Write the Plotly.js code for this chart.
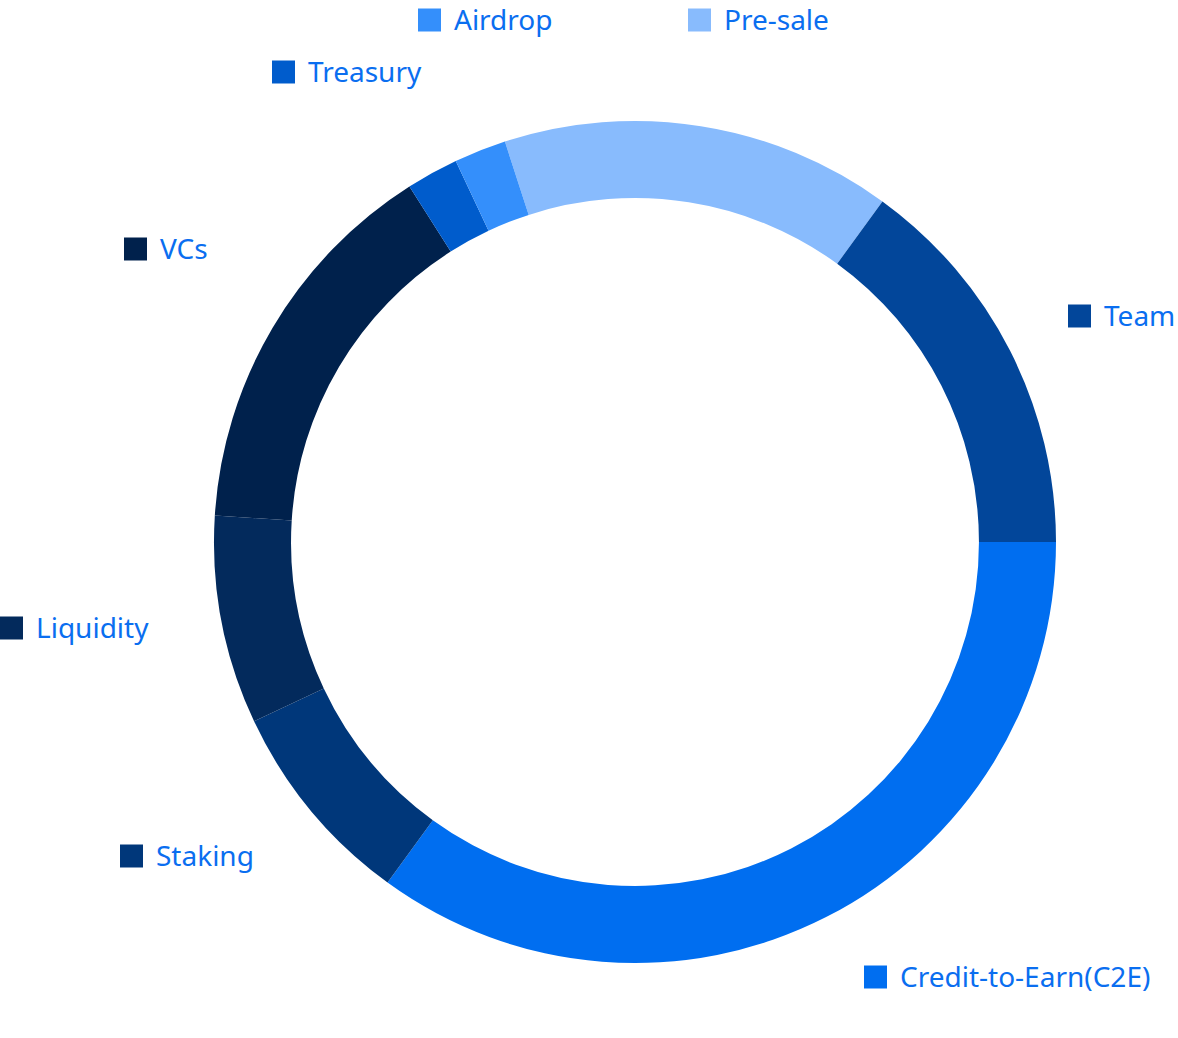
<!DOCTYPE html>
<html>
<head>
<meta charset="utf-8">
<script src="https://cdn.plot.ly/plotly-3.0.1.min.js"></script>
<style>html,body{margin:0;padding:0;background:#fff;}#chart{width:1178px;height:1038px;}</style>
</head>
<body>
<div id="chart"></div>
<script>
// Data
const labels = ["Pre-sale", "Team", "Credit-to-Earn(C2E)", "Staking", "Liquidity", "VCs", "Treasury", "Airdrop"];
const values = [15, 15, 35, 8, 8, 15, 2, 2];
const colors = ["#88bbfd", "#02469a", "#006ef0", "#00377a", "#032a5c", "#00214c", "#005ccc", "#348ffb"];

// Label placement (pixel positions of each legend square: left x, center y)
const labelPos = [[688, 20], [1068, 316], [864, 977], [120, 856], [0, 628], [124, 249], [272, 72], [418, 20]];

const W = 1178, H = 1038;
const SQ = 23;
const textColor = "#0a6ef0";
const fontFamily = "'Noto Sans', 'Open Sans', sans-serif";

const shapes = [];
const annotations = [];
labels.forEach((lab, i) => {
  const [sx, sy] = labelPos[i];
  shapes.push({
    type: "rect", xref: "paper", yref: "paper",
    x0: sx / W, x1: (sx + SQ) / W,
    y0: 1 - (sy + SQ / 2) / H, y1: 1 - (sy - SQ / 2) / H,
    fillcolor: colors[i], line: {width: 0}
  });
  annotations.push({
    xref: "paper", yref: "paper",
    x: (sx + SQ + 11) / W, y: 1 - (sy - 1) / H,
    xanchor: "left", yanchor: "middle",
    text: lab, showarrow: false,
    font: {family: fontFamily, size: 28, color: textColor}
  });
});

const cx = 635, cy = 542, R = 421;
const trace = {
  type: "pie",
  labels: labels,
  values: values,
  sort: false,
  direction: "clockwise",
  rotation: -18,
  hole: 0.817,
  marker: {colors: colors, line: {width: 0}},
  textinfo: "none",
  hoverinfo: "label+percent",
  showlegend: false,
  domain: {
    x: [(cx - R) / W, (cx + R) / W],
    y: [1 - (cy + R) / H, 1 - (cy - R) / H]
  }
};

const layout = {
  width: W, height: H,
  margin: {l: 0, r: 0, t: 0, b: 0},
  paper_bgcolor: "#ffffff",
  showlegend: false,
  shapes: shapes,
  annotations: annotations
};

Plotly.newPlot("chart", [trace], layout, {displayModeBar: false, staticPlot: true});
</script>
</body>
</html>
